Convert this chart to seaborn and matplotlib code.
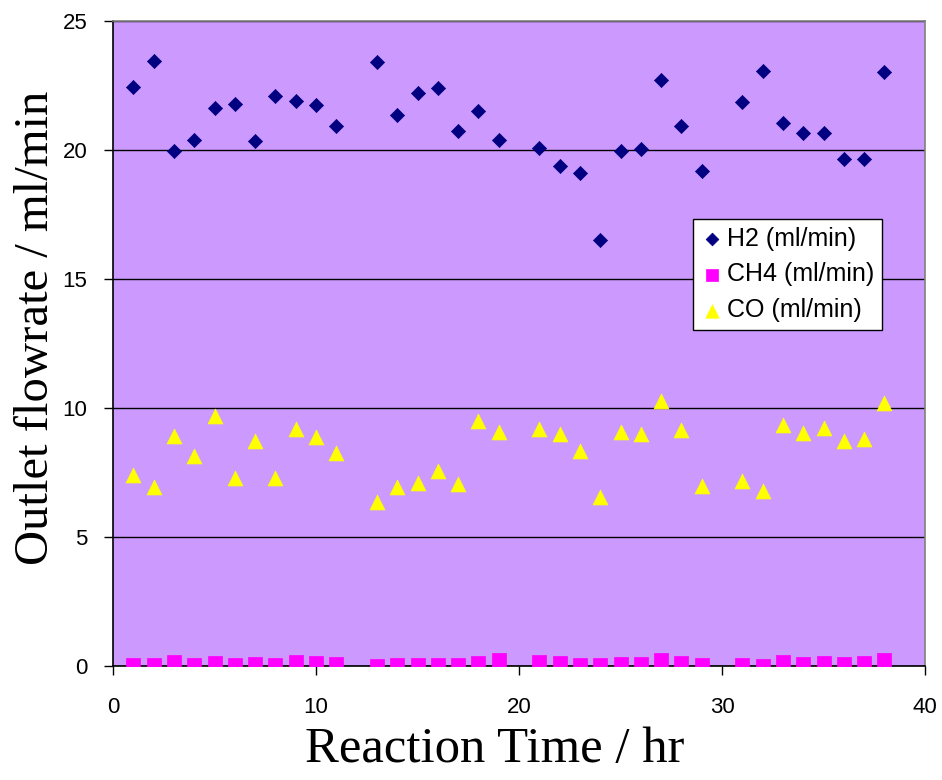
import matplotlib
matplotlib.use("Agg")
import matplotlib.pyplot as plt
import seaborn as sns
import pandas as pd

time_hr = [1, 2, 3, 4, 5, 6, 7, 8, 9, 10, 11, 13, 14, 15, 16, 17, 18, 19,
           21, 22, 23, 24, 25, 26, 27, 28, 29, 31, 32, 33, 34, 35, 36, 37, 38]
h2 = [22.44, 23.45, 19.96, 20.39, 21.63, 21.78, 20.35, 22.09, 21.90, 21.74, 20.93,
      23.41, 21.36, 22.20, 22.40, 20.74, 21.50, 20.39,
      20.08, 19.38, 19.10, 16.50, 19.96, 20.04, 22.70, 20.93, 19.19,
      21.86, 23.06, 21.05, 20.66, 20.66, 19.65, 19.65, 23.02]
ch4 = [0.05, 0.05, 0.17, 0.04, 0.13, 0.04, 0.09, 0.05, 0.17, 0.13, 0.09,
       0.00, 0.05, 0.05, 0.05, 0.05, 0.13, 0.22,
       0.17, 0.13, 0.05, 0.05, 0.09, 0.09, 0.22, 0.13, 0.05,
       0.05, 0.00, 0.17, 0.09, 0.13, 0.09, 0.13, 0.22]
co = [7.40, 6.94, 8.91, 8.14, 9.69, 7.29, 8.72, 7.29, 9.19, 8.88, 8.26,
      6.36, 6.94, 7.09, 7.56, 7.05, 9.50, 9.07,
      9.19, 8.99, 8.33, 6.55, 9.07, 8.99, 10.27, 9.15, 6.98,
      7.17, 6.78, 9.34, 9.03, 9.22, 8.72, 8.80, 10.19]
series_names = ["H2 (ml/min)", "CH4 (ml/min)", "CO (ml/min)"]

df = pd.DataFrame({"t": time_hr, series_names[0]: h2,
                   series_names[1]: ch4, series_names[2]: co})

sns.set_theme(style="white")
plt.rcParams['font.family'] = ['Liberation Sans', 'DejaVu Sans']
plt.rcParams.update({"text.color": "black", "axes.labelcolor": "black",
                     "xtick.color": "black", "ytick.color": "black"})

fig = plt.figure(figsize=(9.42, 7.8), dpi=100)
ax = fig.add_axes([0.12, 0.146, 0.862, 0.827])
ax.set_facecolor("#CC99FF")

styles = [("D", "#000080", 52), ("s", "#FF00FF", 92), ("^", "#FFFF00", 115)]
for name, (m, c, s) in zip(series_names, styles):
    sns.scatterplot(data=df, x="t", y=name, marker=m, color=c, s=s,
                    edgecolor=c, linewidth=0.5, label=name, ax=ax, zorder=3)

ax.set_xlim(0, 40)
ax.set_ylim(0, 25)
ax.set_xticks([0, 10, 20, 30, 40])
ax.set_yticks([0, 5, 10, 15, 20, 25])
ax.yaxis.grid(True, color="black", linewidth=1)
ax.xaxis.grid(False)
ax.set_axisbelow(True)
for sp in ["left", "bottom"]:
    ax.spines[sp].set_color("black")
    ax.spines[sp].set_linewidth(1.2)
for sp in ["top", "right"]:
    ax.spines[sp].set_color("#808080")
    ax.spines[sp].set_linewidth(1.2)
ax.tick_params(axis="both", direction="out", length=6.5, width=1, color="black",
               labelsize=16, left=True, bottom=True)
ax.tick_params(axis="x", pad=16)
ax.tick_params(axis="y", pad=12)

ax.set_xlabel("Reaction Time / hr", family=["Liberation Serif"], fontsize=36.5, labelpad=6)
ax.set_ylabel("Outlet flowrate / ml/min", family=["Liberation Serif"], fontsize=35, labelpad=3)
ax.xaxis.label.set_x(0.47)
ax.yaxis.label.set_y(0.524)

leg = ax.legend(loc="upper left", bbox_to_anchor=(0.736, 0.719),
                bbox_transform=fig.transFigure, fontsize=18, frameon=True,
                fancybox=False, edgecolor="black", facecolor="white",
                framealpha=1, handletextpad=0.15, borderpad=0.3,
                labelspacing=0.47, markerscale=0.9, handlelength=0.9,
                borderaxespad=0)
leg.get_frame().set_linewidth(1.0)

fig.savefig("out.png", dpi=100)
